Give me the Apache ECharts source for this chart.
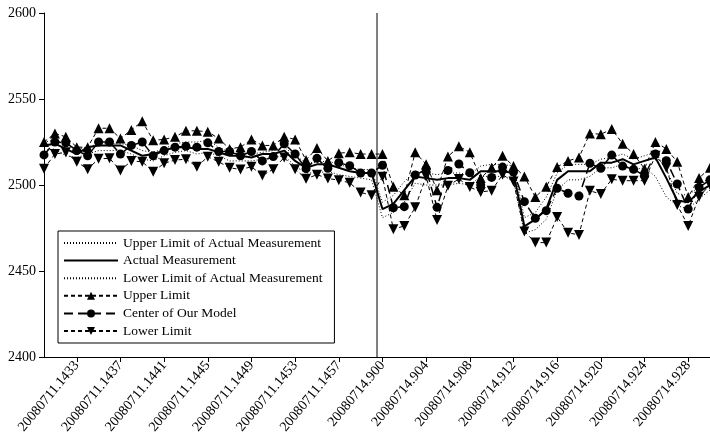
<!DOCTYPE html>
<html>
<head>
<meta charset="utf-8">
<script src="https://cdn.jsdelivr.net/npm/echarts@6/dist/echarts.min.js"></script>
<style>
    html, body { margin: 0; padding: 0; background: #fff; }
    #chart { width: 710px; height: 442px; }
</style>
</head>
<body>
<div id="chart"></div>
<script>
// x categories: afternoon of 0711, then morning of 0714
const categories = [
    '20080711.1430', '20080711.1431', '20080711.1432', '20080711.1433', '20080711.1434', '20080711.1435',
    '20080711.1436', '20080711.1437', '20080711.1438', '20080711.1439', '20080711.1440', '20080711.1441',
    '20080711.1442', '20080711.1443', '20080711.1444', '20080711.1445', '20080711.1446', '20080711.1447',
    '20080711.1448', '20080711.1449', '20080711.1450', '20080711.1451', '20080711.1452', '20080711.1453',
    '20080711.1454', '20080711.1455', '20080711.1456', '20080711.1457', '20080711.1458', '20080711.1459',
    '20080711.1500',
    '20080714.900', '20080714.901', '20080714.902', '20080714.903', '20080714.904', '20080714.905',
    '20080714.906', '20080714.907', '20080714.908', '20080714.909', '20080714.910', '20080714.911',
    '20080714.912', '20080714.913', '20080714.914', '20080714.915', '20080714.916', '20080714.917',
    '20080714.918', '20080714.919', '20080714.920', '20080714.921', '20080714.922', '20080714.923',
    '20080714.924', '20080714.925', '20080714.926', '20080714.927', '20080714.928', '20080714.929',
    '20080714.930'
];

const upperActual = [
    2525, 2526, 2524, 2521, 2522, 2524, 2524, 2524, 2523, 2520, 2519, 2521, 2524, 2525, 2525, 2526,
    2522, 2519, 2518, 2518, 2519, 2520, 2522, 2517, 2513, 2513, 2514, 2512, 2510, 2509, 2509,
    2490, 2494, 2502, 2508, 2507, 2506, 2507, 2507, 2506, 2511, 2512, 2512, 2511, 2481, 2484, 2493,
    2507, 2512, 2512, 2512, 2515, 2516, 2518, 2515, 2517, 2519, 2509, 2495, 2494, 2499, 2503
];
const actual = [
    2523, 2524, 2521, 2518, 2522, 2523, 2523, 2523, 2520, 2517, 2518, 2520, 2522, 2522, 2521, 2521,
    2519, 2517, 2517, 2516, 2518, 2518, 2520, 2514, 2510, 2512, 2512, 2510, 2508, 2507, 2507,
    2486, 2489, 2497, 2505, 2504, 2503, 2504, 2504, 2503, 2508, 2508, 2508, 2507, 2476, 2480, 2486,
    2503, 2508, 2508, 2508, 2513, 2513, 2515, 2512, 2514, 2516, 2504, 2491, 2490, 2496, 2500
];
const lowerActual = [
    2520, 2521, 2517, 2516, 2518, 2520, 2520, 2520, 2518, 2515, 2514, 2517, 2519, 2520, 2518, 2519,
    2517, 2514, 2514, 2514, 2515, 2516, 2517, 2511, 2507, 2507, 2508, 2506, 2505, 2504, 2503,
    2481, 2484, 2490, 2501, 2500, 2500, 2500, 2501, 2500, 2505, 2505, 2505, 2503, 2472, 2474, 2480,
    2497, 2503, 2503, 2505, 2510, 2510, 2512, 2509, 2510, 2505, 2493, 2488, 2486, 2492, 2497
];
const upperLimit = [
    2525, 2530, 2528, 2522, 2522, 2533, 2533, 2527, 2532, 2537, 2526, 2526.5, 2528, 2531.5, 2531.5, 2531,
    2527, 2521, 2522, 2526.5, 2523, 2523, 2528, 2526.5, 2514.5, 2521.5, 2514, 2518.5, 2519, 2518, 2518,
    2518, 2499, 2494, 2519, 2512, 2497, 2516.5, 2522.5, 2519, 2504, 2510, 2517, 2511, 2505, 2493, 2499,
    2510.5, 2514, 2516, 2530, 2529.5, 2532.5, 2524, 2518, 2509.5, 2525, 2521, 2513.5, 2493, 2504, 2510
];
const center = [
    2517.5, 2525, 2524.5, 2520, 2517, 2525, 2525, 2518, 2523, 2525, 2517, 2520, 2522, 2522.5, 2522, 2524.5,
    2519.5, 2519.5, 2517, 2519.5, 2514, 2516.5, 2524, 2518, 2509.5, 2515.5, 2509.7, 2513, 2511.2, 2507, 2507,
    2511.5, 2486.8, 2487.4, 2505.8, 2509, 2487, 2508.5, 2512.2, 2507.1, 2500, 2504.4, 2510.4, 2507.5, 2490.3, 2480.6, 2485.1,
    2498.1, 2495.2, 2493.6, 2512.6, 2509.7, 2517.4, 2511, 2509.1, 2505.5, 2518, 2514.1, 2500.6, 2486, 2498.7, 2503
];
const lowerLimit = [
    2509.5, 2518, 2519, 2513.5, 2509.2, 2515.2, 2515.5, 2508.5, 2514, 2513.5, 2507.7, 2512.6, 2514.5, 2515, 2510.6, 2516.4,
    2513.5, 2510, 2509, 2510.6, 2505.5, 2509.2, 2516, 2509.2, 2503.6, 2506, 2503.8, 2502.8, 2501.3, 2495.7, 2494,
    2504.8, 2474.3, 2476.2, 2487, 2505, 2479.7, 2499.5, 2503.5, 2498.8, 2496, 2496.7, 2506, 2502, 2473, 2466.5, 2466.5,
    2481.4, 2472.2, 2471, 2496.6, 2494.8, 2503.3, 2502.5, 2502.5, 2502.5, 2517, 2510, 2488.4, 2476.2, 2493.2, 2500
];

const yTicks = [2400, 2450, 2500, 2550, 2600];
// the gap between the two trading days (between index 30 and 31)
const dayBreak = 30.5;

const font = 'Liberation Serif';
const showEvery4 = function (index) { return index % 4 === 3; };
const noMarker = { opacity: 0 };  // legend entries of plain lines, hide the default dot

let myChart = echarts.init(document.getElementById('chart'));
const option = {
    animation: false,
    backgroundColor: '#fff',
    textStyle: { fontFamily: font, color: '#000' },
    grid: { left: 44, right: -2, top: 13, bottom: 85 },
    legend: {
        orient: 'vertical',
        left: 58,
        top: 231,
        padding: [5, 12, 5, 5],
        borderColor: '#000',
        borderWidth: 1,
        itemWidth: 54,
        itemHeight: 10,
        itemGap: 3.6,
        textStyle: { fontFamily: font, fontSize: 13.5, color: '#000', lineHeight: 14 },
        data: [
            { name: 'Upper Limit of Actual Measurement', itemStyle: noMarker },
            { name: 'Actual Measurement', itemStyle: noMarker },
            { name: 'Lower Limit of Actual Measurement', itemStyle: noMarker },
            'Upper Limit', 'Center of Our Model', 'Lower Limit'
        ]
    },
    xAxis: [{
        type: 'category',
        data: categories,
        boundaryGap: false,
        axisLine: { lineStyle: { color: '#000', width: 1 } },
        axisTick: { interval: showEvery4, length: 5, lineStyle: { color: '#000' } },
        axisLabel: {
            interval: showEvery4,
            rotate: 50,
            margin: 6,
            fontFamily: font,
            fontSize: 14,
            color: '#000'
        },
        splitLine: { show: false }
    }, {
        // hidden helper axis used only for the day separator
        type: 'value',
        min: 0,
        max: categories.length - 1,
        show: false
    }],
    yAxis: {
        type: 'value',
        min: yTicks[0],
        max: yTicks[yTicks.length - 1],
        interval: 50,
        axisLine: { show: true, lineStyle: { color: '#000', width: 1 } },
        axisTick: { show: true, length: 5, lineStyle: { color: '#000' } },
        axisLabel: {
            fontFamily: font, fontSize: 14, color: '#000', margin: 8,
            formatter: function (v) { return String(v); }
        },
        splitLine: { show: false }
    },
    series: [
        {
            name: 'Upper Limit of Actual Measurement',
            type: 'line',
            data: upperActual,
            symbol: 'none',
            lineStyle: { color: '#000', width: 1, type: [1, 2] },
            itemStyle: { color: '#000' }
        },
        {
            name: 'Actual Measurement',
            type: 'line',
            data: actual,
            symbol: 'none',
            lineStyle: { color: '#000', width: 2 },
            itemStyle: { color: '#000' }
        },
        {
            name: 'Lower Limit of Actual Measurement',
            type: 'line',
            data: lowerActual,
            symbol: 'none',
            lineStyle: { color: '#000', width: 1, type: [1, 2] },
            itemStyle: { color: '#000' }
        },
        {
            name: 'Upper Limit',
            type: 'line',
            data: upperLimit,
            symbol: 'triangle',
            symbolSize: 10,
            showAllSymbol: true,
            lineStyle: { color: '#000', width: 1, type: [4, 3] },
            itemStyle: { color: '#000' }
        },
        {
            name: 'Center of Our Model',
            type: 'line',
            data: center,
            symbol: 'circle',
            symbolSize: 9,
            showAllSymbol: true,
            lineStyle: { color: '#000', width: 1.5, type: [9, 5] },
            itemStyle: { color: '#000' }
        },
        {
            name: 'Lower Limit',
            type: 'line',
            data: lowerLimit,
            symbol: 'triangle',
            symbolRotate: 180,
            symbolSize: 10,
            showAllSymbol: true,
            lineStyle: { color: '#000', width: 1, type: [4, 3] },
            itemStyle: { color: '#000' }
        },
        {
            name: 'dayBreak',
            type: 'line',
            xAxisIndex: 1,
            data: [[dayBreak, yTicks[0]], [dayBreak, yTicks[yTicks.length - 1]]],
            symbol: 'none',
            silent: true,
            lineStyle: { color: '#000', width: 1 }
        }
    ]
};
myChart.setOption(option);
</script>
</body>
</html>
